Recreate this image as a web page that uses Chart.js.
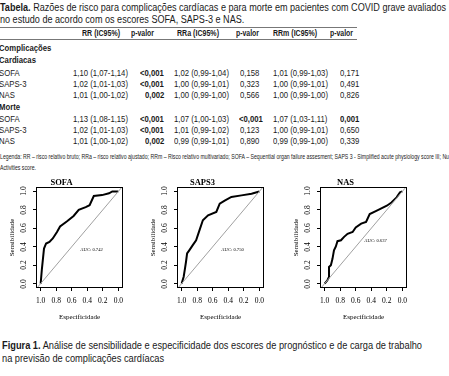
<!DOCTYPE html>
<html lang="pt">
<head>
<meta charset="utf-8">
<script src="https://cdn.jsdelivr.net/npm/chart.js@4.4.1/dist/chart.umd.min.js"></script>
<style>
  html, body { margin: 0; padding: 0; background: #fff; }
  body {
    width: 449px; height: 376px; position: relative; overflow: hidden; color: #1a1a1a;
    font-family: "Liberation Sans Narrow", "Arial Narrow", "Liberation Sans", Arial, sans-serif;
  }
  .t { position: absolute; white-space: nowrap; line-height: 1; transform-origin: 0 50%; }
  .rule { position: absolute; left: 0; width: 357px; height: 1px; background: #777; }
  .panel { position: absolute; top: 172px; width: 127px; height: 153px; }
  .panel canvas { position: absolute; left: 0; top: 0; }
  .ylab {
    position: absolute; white-space: nowrap; line-height: 1; color: #000;
    font: 7.5px "Liberation Serif", "DejaVu Serif", serif;
    transform: translate(-50%, -50%) rotate(-90deg);
  }
</style>
</head>
<body>
<div id="page"></div>
<div class="panel" style="left:0px"><canvas id="sofaChart" width="127" height="153"></canvas></div>
<div class="panel" style="left:141px"><canvas id="saps3Chart" width="127" height="153"></canvas></div>
<div class="panel" style="left:284px"><canvas id="nasChart" width="127" height="153"></canvas></div>

<script>
/* ---- Table data ---- */
const colHeads  = ["RR (IC95%)", "p-valor", "RRa (IC95%)", "p-valor", "RRm (IC95%)", "p-valor"];
const rowNames  = ["SOFA", "SAPS-3", "NAS"];
const cardRR    = ["1,10 (1,07-1,14)", "1,02 (1,01-1,03)", "1,01 (1,00-1,02)"];
const cardP     = ["<0,001", "<0,001", "0,002"];
const cardRRa   = ["1,02 (0,99-1,04)", "1,00 (0,99-1,01)", "1,00 (0,99-1,00)"];
const cardPa    = ["0,158", "0,323", "0,566"];
const cardRRm   = ["1,01 (0,99-1,03)", "1,00 (0,99-1,01)", "1,00 (0,99-1,00)"];
const cardPm    = ["0,171", "0,491", "0,826"];
const mortRR    = ["1,13 (1,08-1,15)", "1,02 (1,01-1,03)", "1,01 (1,00-1,02)"];
const mortP     = ["<0,001", "<0,001", "0,002"];
const mortRRa   = ["1,07 (1,00-1,03)", "1,01 (0,99-1,02)", "0,99 (0,99-1,01)"];
const mortPa    = ["<0,001", "0,123", "0,890"];
const mortRRm   = ["1,07 (1,03-1,11)", "1,00 (0,99-1,01)", "0,99 (0,99-1,00)"];
const mortPm    = ["0,001", "0,650", "0,339"];

/* ---- ROC data (specificity, sensitivity) ---- */
const rocTicks  = [0, 0.2, 0.4, 0.6, 0.8, 1.0];
const diagSpec  = [1.2, -0.2];
const diagSens  = [-0.2, 1.2];

const sofaSpec  = [1.0, 0.985, 0.957, 0.93, 0.887, 0.844, 0.79, 0.75, 0.66, 0.576, 0.51, 0.42, 0.37, 0.316, 0.21, 0.12, 0.078, 0.0];
const sofaSens  = [0.0, 0.15, 0.38, 0.435, 0.453, 0.49, 0.56, 0.62, 0.676, 0.734, 0.80, 0.83, 0.85, 0.95, 0.96, 0.98, 1.0, 1.0];

const saps3Spec = [1.0, 0.974, 0.957, 0.944, 0.93, 0.90, 0.857, 0.814, 0.77, 0.727, 0.66, 0.554, 0.51, 0.446, 0.36, 0.23, 0.10, 0.0];
const saps3Sens = [0.0, 0.075, 0.165, 0.237, 0.327, 0.363, 0.417, 0.47, 0.58, 0.687, 0.74, 0.777, 0.867, 0.90, 0.94, 0.957, 0.975, 1.0];

const nasSpec   = [1.0, 0.965, 0.944, 0.944, 0.92, 0.90, 0.88, 0.857, 0.835, 0.79, 0.75, 0.705, 0.64, 0.60, 0.53, 0.467, 0.42, 0.335, 0.27, 0.20, 0.14, 0.074, 0.03, 0.0];
const nasSens   = [0.0, 0.036, 0.072, 0.18, 0.20, 0.266, 0.36, 0.40, 0.46, 0.47, 0.507, 0.54, 0.56, 0.61, 0.65, 0.67, 0.755, 0.79, 0.817, 0.845, 0.88, 0.935, 0.99, 1.0];

const aucLabels = ["AUC: 0.742", "AUC: 0.750", "AUC: 0.637"];
const aucSpots  = [[0.49, 0.37], [0.49, 0.37], [0.49, 0.465]];


/* ---- Text helpers ---- */
const page = document.getElementById("page");

function addText(html, x, yc, size, opts = {}) {
  const el = document.createElement("div");
  el.className = "t";
  el.innerHTML = html;
  el.style.fontSize = size + "px";
  el.style.left = x + "px";
  el.style.top = (yc - size / 2) + "px";
  if (opts.bold) el.style.fontWeight = "bold";
  page.appendChild(el);
  return el;
}

function widthOf(el) {
  return el.getBoundingClientRect().width;
}

function squeeze(el, k, rightEdge) {
  const w = widthOf(el);
  el.style.transform = `scaleX(${k})`;
  if (rightEdge !== undefined) el.style.left = (rightEdge - w * k) + "px";
}

// squeeze to an exact width
function fitTo(el, w) {
  el.style.transform = `scaleX(${w / widthOf(el)})`;
}

function esc(s) {
  return s.replace(/</g, "&lt;");
}


/* ---- Headings ---- */
function initHeadings() {
  const t1 = addText("<b>Tabela.</b> Razões de risco para complicações cardíacas e para morte em pacientes com COVID grave avaliados", 0, 7.5, 10);
  const t2 = addText("no estudo de acordo com os escores SOFA, SAPS-3 e NAS.", 0, 20, 10);
  const k = 446 / widthOf(t1);
  squeeze(t1, k); squeeze(t2, k);

  const lg1 = addText("Legenda: RR – risco relativo bruto; RRa – risco relativo ajustado; RRm – Risco relativo multivariado; SOFA – Sequential organ failure assesment; SAPS 3 - Simplified acute physiology score III; Nu", 0, 156, 7);
  const lg2 = addText("Activities score.", 0, 167, 7);
  const kl = 449 / widthOf(lg1);
  squeeze(lg1, kl); squeeze(lg2, kl);

  const c1 = addText("<b>Figura 1.</b> Análise de sensibilidade e especificidade dos escores de prognóstico e de carga de trabalho", 2, 345, 11);
  const c2 = addText("na previsão de complicações cardíacas", 2, 358.5, 11);
  const kc = 420 / widthOf(c1);
  squeeze(c1, kc); squeeze(c2, kc);
}


/* ---- Table ---- */
function initTable() {
  [27, 39].forEach(y => {
    const r = document.createElement("div");
    r.className = "rule";
    r.style.top = y + "px";
    page.appendChild(r);
  });

  const ref = addText(cardRR[0], 72.7, 73, 9);
  const k = 55 / widthOf(ref);
  page.removeChild(ref);

  const headX = [81.5, 131, 176.5, 236, 273, 330];
  const headW = [38, 23, 42, 23, 44, 23];
  colHeads.forEach((h, i) => fitTo(addText(h, headX[i], 33, 9, { bold: true }), headW[i]));

  const block = (title, titleY, y0, rr, p, rra, pa, rrm, pm, boldA, boldM) => {
    title.forEach((tt, i) => squeeze(addText(tt, -1, titleY[i], 9, { bold: true }), k));
    rowNames.forEach((name, i) => {
      const y = y0[i];
      squeeze(addText(name, -1, y, 9), k);
      squeeze(addText(rr[i], 72.7, y, 9), k);
      squeeze(addText(esc(p[i]), 0, y, 9, { bold: true }), k, 164);
      squeeze(addText(rra[i], 174.3, y, 9), k);
      squeeze(addText(esc(pa[i]), pa[i].startsWith("<") ? 239 : 240, y, 9, { bold: boldA[i] }), k);
      squeeze(addText(rrm[i], 272.7, y, 9), k);
      squeeze(addText(esc(pm[i]), 340, y, 9, { bold: boldM[i] }), k);
    });
  };

  block(["Complicações", "Cardiacas"], [48.5, 60.5], [73, 84, 95],
        cardRR, cardP, cardRRa, cardPa, cardRRm, cardPm, [false, false, false], [false, false, false]);
  block(["Morte"], [107.5], [119.5, 130.5, 141.5],
        mortRR, mortP, mortRRa, mortPa, mortRRm, mortPm, [true, false, false], [true, false, false]);
}


/* ---- ROC panels ---- */
const serif = "'Liberation Serif', 'DejaVu Serif', serif";

// R draws a full box round the plot region
const frameBox = {
  id: "frameBox",
  afterDraw(chart) {
    const { ctx, chartArea: a } = chart;
    ctx.save();
    ctx.strokeStyle = "#000";
    ctx.lineWidth = 1;
    ctx.strokeRect(Math.round(a.left) + 0.5, Math.round(a.top) + 0.5,
                   Math.round(a.right - a.left) - 1, Math.round(a.bottom - a.top) - 1);
    ctx.restore();
  }
};

const aucText = {
  id: "aucText",
  afterDatasetsDraw(chart, args, opts) {
    const { ctx, scales: { x, y } } = chart;
    ctx.save();
    ctx.font = `4.6px ${serif}`;
    ctx.fillStyle = "#000";
    ctx.textAlign = "left";
    ctx.textBaseline = "middle";
    ctx.fillText(opts.text, x.getPixelForValue(opts.x), y.getPixelForValue(opts.y));
    ctx.restore();
  }
};

function toPoints(xs, ys) {
  return xs.map((x, i) => ({ x, y: ys[i] }));
}

// rotated y labels (R style, read bottom to top), placed from the chart's own y scale
function addYLabels(chart, panel) {
  const a = chart.chartArea;
  const ys = chart.scales.y;
  rocTicks.forEach(v => {
    const el = document.createElement("div");
    el.className = "ylab";
    el.textContent = v.toFixed(1);
    el.style.left = (a.left - 13.5) + "px";
    el.style.top = ys.getPixelForValue(v) + "px";
    panel.appendChild(el);
  });
}

function initRoc(id, title, spec, sens, auc, spot) {
  const canvas = document.getElementById(id);
  if (!canvas) return;

  const tickFont = { family: serif, size: 7.5 };
  const titleFont = { family: serif, size: 7, lineHeight: 1.2 };
  const setTicks = s => { s.ticks = rocTicks.map(v => ({ value: v })); };

  const chart = new Chart(canvas, {
    type: "scatter",
    data: {
      datasets: [
        {
          data: toPoints(diagSpec, diagSens),
          showLine: true,
          borderColor: "#a0a0a0",
          borderWidth: 1,
          pointRadius: 0
        },
        {
          data: toPoints(spec, sens),
          showLine: true,
          borderColor: "#000",
          borderWidth: 2,
          pointRadius: 0,
          tension: 0
        }
      ]
    },
    options: {
      responsive: false,
      animation: false,
      devicePixelRatio: 1,
      layout: { padding: { left: 0, right: 4, top: 0.5, bottom: 0 } },
      plugins: {
        legend: { display: false },
        tooltip: { enabled: false },
        title: {
          display: true,
          text: title,
          color: "#000",
          font: { family: serif, size: 8.5, weight: "bold", lineHeight: 1 },
          padding: { top: 6, bottom: 0 }
        },
        aucText: { text: auc, x: spot[0], y: spot[1] }
      },
      scales: {
        x: {
          type: "linear",
          position: "bottom",
          reverse: true,
          min: -0.06,
          max: 1.06,
          afterFit: s => { s.height = 37; },
          afterBuildTicks: setTicks,
          grid: { drawOnChartArea: false, tickColor: "#000", tickLength: 3 },
          border: { display: false },
          ticks: {
            color: "#000", font: tickFont, padding: 6,
            autoSkip: false, maxRotation: 0,
            callback: v => v.toFixed(1)
          },
          title: {
            display: true, text: "Especificidade", color: "#000",
            font: titleFont, padding: { top: 0, bottom: 4 }
          }
        },
        y: {
          type: "linear",
          position: "left",
          min: -0.048,
          max: 1.048,
          afterFit: s => { s.width = 36; },
          afterBuildTicks: setTicks,
          grid: { drawOnChartArea: false, tickColor: "#000", tickLength: 3 },
          border: { display: false },
          ticks: { display: false, autoSkip: false },
          title: {
            display: true, text: "Sensibilidade", color: "#000",
            font: titleFont, padding: { top: 7.8, bottom: 0 }
          }
        }
      }
    },
    plugins: [frameBox, aucText]
  });

  addYLabels(chart, canvas.parentNode);
}

initHeadings();
initTable();
initRoc("sofaChart", "SOFA", sofaSpec, sofaSens, aucLabels[0], aucSpots[0]);
initRoc("saps3Chart", "SAPS3", saps3Spec, saps3Sens, aucLabels[1], aucSpots[1]);
initRoc("nasChart", "NAS", nasSpec, nasSens, aucLabels[2], aucSpots[2]);
</script>
</body>
</html>
